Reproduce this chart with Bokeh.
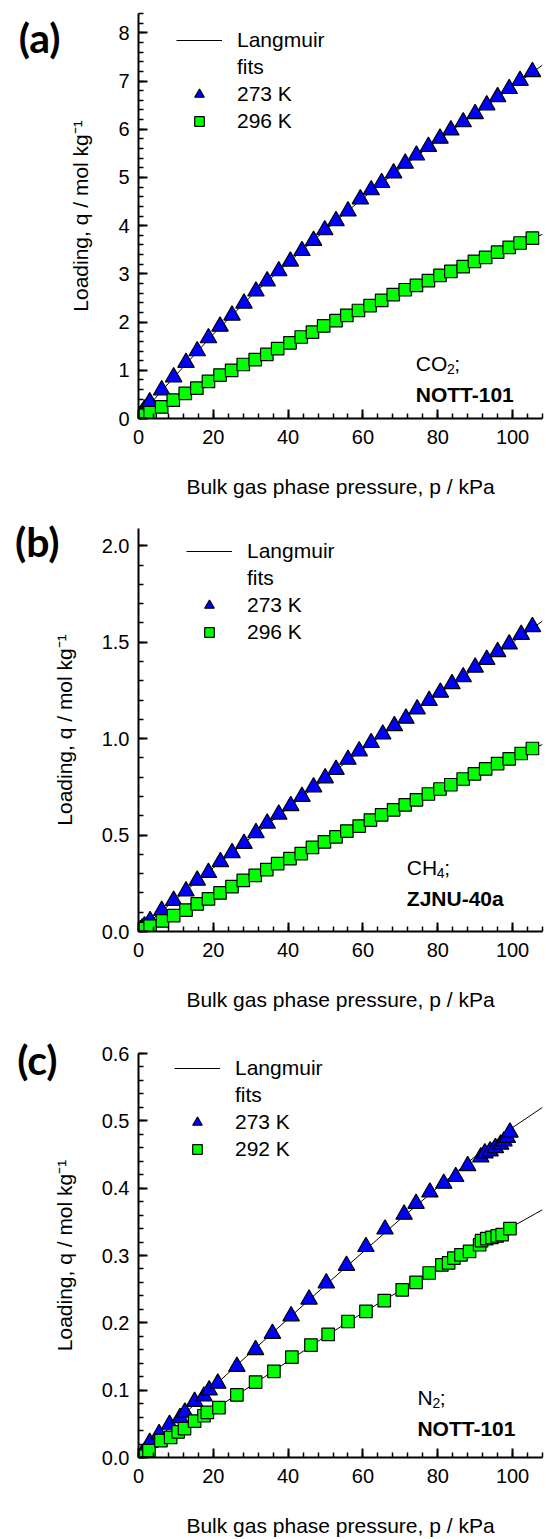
import math
from bokeh.plotting import figure
from bokeh.models import (Range1d, FixedTicker, Label, Legend, LegendItem,
                          PrintfTickFormatter, LinearAxis)
from bokeh.layouts import column
from bokeh.embed import file_html
from bokeh.resources import INLINE

# ---------------- data ----------------
x_ticks = [0, 20, 40, 60, 80, 100]
fit_p = [0, 5, 10, 20, 30, 40, 50, 60, 70, 80, 90, 100, 108]

# (a) CO2 / NOTT-101
a_p273 = [0.2, 0.5, 1.0, 1.6, 3.0, 6.2, 9.4, 12.7, 15.7, 18.7, 21.8, 25.0, 28.2, 31.4, 34.4, 37.5,
          40.6, 43.7, 46.8, 49.8, 52.8, 56.0, 59.3, 62.2, 65.0, 68.2, 71.3, 74.3, 77.5, 80.6,
          83.5, 86.8, 90.0, 93.1, 96.0, 99.1, 102.0, 105.3]
a_q273 = [0.03, 0.06, 0.12, 0.19, 0.34, 0.59, 0.86, 1.16, 1.40, 1.67, 1.91, 2.14, 2.39, 2.64, 2.85,
          3.06, 3.26, 3.48, 3.69, 3.91, 4.10, 4.30, 4.55, 4.74, 4.89, 5.09, 5.29, 5.46, 5.64,
          5.81, 5.98, 6.15, 6.32, 6.50, 6.67, 6.84, 7.01, 7.19]
a_p296 = [0.2, 0.5, 1.0, 1.6, 3.1, 6.2, 9.3, 12.5, 15.6, 18.7, 21.8, 24.9, 28.0, 31.2, 34.3, 37.2,
          40.5, 43.5, 46.5, 49.5, 52.8, 55.7, 58.8, 61.9, 65.0, 68.1, 71.3, 74.3, 77.5, 80.6,
          83.5, 86.8, 89.8, 92.8, 96.0, 99.1, 102.0, 105.3]
a_q296 = [0.01, 0.02, 0.04, 0.07, 0.12, 0.24, 0.38, 0.52, 0.63, 0.77, 0.90, 1.00, 1.12, 1.22, 1.33,
          1.45, 1.57, 1.69, 1.79, 1.92, 2.03, 2.14, 2.24, 2.34, 2.45, 2.57, 2.67, 2.76, 2.86,
          2.97, 3.05, 3.15, 3.26, 3.34, 3.45, 3.55, 3.64, 3.74]
a_fit273 = [0, 0.47, 0.90, 1.75, 2.53, 3.23, 3.91, 4.57, 5.19, 5.77, 6.32, 6.88, 7.33]
a_fit296 = [0, 0.20, 0.41, 0.81, 1.19, 1.55, 1.92, 2.28, 2.62, 2.94, 3.25, 3.57, 3.82]

# (b) CH4 / ZJNU-40a
b_p273 = [0.2, 0.5, 1.0, 1.6, 3.1, 6.2, 9.4, 12.7, 15.7, 18.7, 21.9, 25.0, 28.2, 31.4, 34.4, 37.5,
          40.7, 43.7, 46.8, 49.9, 52.8, 56.0, 59.0, 62.2, 65.3, 68.4, 71.5, 74.5, 77.7, 80.7,
          83.8, 86.8, 90.0, 93.1, 96.0, 99.1, 102.3, 105.3]
b_q273 = [0.004, 0.009, 0.018, 0.028, 0.056, 0.108, 0.160, 0.209, 0.265, 0.305, 0.361, 0.408,
          0.456, 0.512, 0.561, 0.608, 0.652, 0.700, 0.749, 0.796, 0.840, 0.892, 0.936, 0.979,
          1.023, 1.066, 1.105, 1.153, 1.197, 1.240, 1.284, 1.32, 1.37, 1.41, 1.45, 1.49, 1.54, 1.58]
b_p296 = [0.2, 0.5, 1.0, 1.6, 3.1, 6.4, 9.4, 12.7, 15.7, 18.7, 21.8, 25.0, 28.0, 31.2, 34.3, 37.2,
          40.5, 43.5, 46.5, 49.7, 52.8, 55.7, 59.0, 62.0, 65.0, 68.2, 71.3, 74.3, 77.5, 80.6,
          83.5, 86.8, 89.8, 92.8, 96.0, 99.1, 102.3, 105.3]
b_q296 = [0.002, 0.005, 0.009, 0.015, 0.028, 0.055, 0.082, 0.111, 0.143, 0.169, 0.200, 0.233,
          0.265, 0.291, 0.321, 0.352, 0.378, 0.404, 0.436, 0.465, 0.491, 0.521, 0.547, 0.578,
          0.605, 0.631, 0.657, 0.683, 0.713, 0.739, 0.761, 0.791, 0.817, 0.843, 0.871, 0.895,
          0.923, 0.949]
b_fit273 = [0, 0.085, 0.168, 0.33, 0.486, 0.64, 0.795, 0.945, 1.09, 1.23, 1.365, 1.50, 1.61]
b_fit296 = [0, 0.045, 0.09, 0.183, 0.275, 0.367, 0.46, 0.552, 0.64, 0.73, 0.815, 0.90, 0.97]

# (c) N2 / NOTT-101
c_p273 = [0.8, 1.6, 3.0, 5.5, 8.3, 11.1, 12.4, 15.0, 17.5, 18.9, 21.2, 26.3, 31.3, 35.8, 40.8,
          45.6, 50.2, 55.6, 60.8, 65.9, 71.0, 74.2, 77.9, 81.6, 84.8, 88.0, 91.5, 92.6, 94.0,
          95.4, 96.8, 97.7, 98.6, 99.3]
c_q273 = [0.004, 0.008, 0.022, 0.035, 0.049, 0.059, 0.067, 0.083, 0.091, 0.100, 0.110, 0.135,
          0.160, 0.184, 0.210, 0.235, 0.259, 0.285, 0.313, 0.339, 0.361, 0.377, 0.394, 0.407,
          0.417, 0.433, 0.446, 0.452, 0.455, 0.460, 0.465, 0.470, 0.475, 0.483]
c_p292 = [1.4, 2.8, 6.0, 8.6, 10.6, 12.3, 15.0, 17.5, 18.4, 21.5, 26.3, 31.3, 36.2, 41.0, 46.1,
          50.7, 56.0, 60.8, 65.7, 70.5, 74.2, 77.7, 81.1, 82.9, 84.3, 86.2, 88.5, 91.2, 91.7,
          93.1, 94.5, 95.9, 97.2, 99.3]
c_q292 = [0.002, 0.010, 0.025, 0.030, 0.038, 0.043, 0.054, 0.062, 0.067, 0.074, 0.093, 0.112,
          0.128, 0.149, 0.167, 0.183, 0.202, 0.217, 0.233, 0.249, 0.260, 0.274, 0.286, 0.289,
          0.296, 0.301, 0.306, 0.316, 0.322, 0.325, 0.327, 0.329, 0.331, 0.340]
c_fit273 = [0, 0.027, 0.053, 0.105, 0.156, 0.206, 0.256, 0.305, 0.354, 0.401, 0.447, 0.490, 0.520]
c_fit292 = [0, 0.018, 0.036, 0.071, 0.106, 0.143, 0.180, 0.215, 0.248, 0.282, 0.313, 0.343, 0.368]

x_title = "Bulk gas phase pressure, p / kPa"
y_title = "Loading, q / mol kg\u207b\u00b9"

FONT = "Liberation Sans"
W = 546

AW = {'C': 722, 'H': 722, 'N': 722, 'O': 778}


def tw(s, size):
    return sum(AW.get(ch, 556) for ch in s) * size / 1000.0


def make_panel(height, top, fh, left, fw, xmax, ymax, yticks, yminor, yfmt):
    p = figure(width=W, height=height, x_range=Range1d(0, xmax), y_range=Range1d(0, ymax),
               output_backend="svg", toolbar_location=None,
               min_border_left=left, min_border_right=W - left - fw,
               min_border_top=top, min_border_bottom=height - top - fh)
    p.outline_line_color = None
    p.xgrid.visible = False
    p.ygrid.visible = False
    p.background_fill_color = "white"
    p.border_fill_color = "white"
    p.xaxis.ticker = FixedTicker(ticks=x_ticks, minor_ticks=[v * 4 for v in range(28)])
    p.yaxis.ticker = FixedTicker(ticks=yticks, minor_ticks=yminor)
    if yfmt:
        p.yaxis.formatter = PrintfTickFormatter(format=yfmt)
    for ax in (p.xaxis[0], p.yaxis[0]):
        ax.axis_line_width = 2
        ax.axis_line_color = "black"
        ax.major_tick_in = 9
        ax.major_tick_out = 0
        ax.minor_tick_in = 5
        ax.minor_tick_out = 0
        ax.major_tick_line_width = 2
        ax.minor_tick_line_width = 1.5
        ax.major_tick_line_color = "black"
        ax.minor_tick_line_color = "black"
        ax.major_label_text_font = FONT
        ax.major_label_text_font_size = "20px"
        ax.major_label_text_color = "black"
        ax.axis_label_text_font = FONT
        ax.axis_label_text_font_size = "21px"
        ax.axis_label_text_font_style = "normal"
        ax.axis_label_text_color = "black"
    p.xaxis.major_label_standoff = 11
    p.yaxis.major_label_standoff = 9
    p.xaxis.axis_label = x_title
    p.yaxis.axis_label = y_title
    p.xaxis.axis_label_standoff = 28
    p.yaxis.axis_label_standoff = 23
    geo = dict(left=left, w=fw, top=top, h=fh, xmax=xmax, ymax=ymax)
    return p, geo


def lab(p, g, off, px, py, text, size=21, style="normal", font=FONT):
    x = (px - g["left"]) / g["w"] * g["xmax"]
    y = (g["top"] + g["h"] - (py - off)) / g["h"] * g["ymax"]
    p.add_layout(Label(x=x, y=y, text=text, text_font=font, text_font_size=f"{size}px",
                       text_font_style=style, text_align="left",
                       text_baseline="alphabetic", text_color="black"))


def decorate(p, g, off, tag, tag_cy, tag_standoff, gas, sub, gas_x, gas_base, mof,
             leg_x, leg_top, rends, labels):
    # panel tag, drawn as the single tick label of an extra bare left axis
    ty = round((g["top"] + g["h"] - (tag_cy - off)) / g["h"] * g["ymax"], 4)
    tag_axis = LinearAxis(ticker=FixedTicker(ticks=[ty], minor_ticks=[]),
                          major_label_overrides={ty: tag},
                          axis_line_color=None, major_tick_line_color=None,
                          minor_tick_line_color=None, major_tick_in=0, major_tick_out=0,
                          major_label_text_font="Lato", major_label_text_font_size="41px",
                          major_label_text_font_style="bold", major_label_text_color="black",
                          major_label_standoff=tag_standoff)
    p.add_layout(tag_axis, "left")
    # gas label with subscript
    lab(p, g, off, gas_x, gas_base, gas)
    sx = gas_x + tw(gas, 21)
    lab(p, g, off, sx, gas_base + 5, sub, size=14)
    lab(p, g, off, sx + tw(sub, 14) * 0.95, gas_base, ";")
    lab(p, g, off, gas_x, gas_base + 31, mof, style="bold")
    # legend
    n = len(labels)
    leg_h = n * 24 + (n - 1) * 3
    vy = (off + g["top"] + g["h"]) - (leg_top + leg_h)
    vx = leg_x - g["left"]
    items = [LegendItem(label=labels[i], renderers=[rends[i]]) for i in range(n)]
    leg = Legend(items=items, location=(vx, vy), orientation="vertical",
                 border_line_color=None, background_fill_alpha=0, padding=0, margin=0,
                 spacing=3, glyph_width=46, glyph_height=24, label_height=24,
                 label_standoff=15, label_text_font=FONT, label_text_font_size="21px",
                 label_text_color="black")
    p.add_layout(leg)


def draw(p, fp, f1, f2, p1, q1, p2, q2):
    l1 = p.line(fp, f1, line_color="black", line_width=1)
    p.line(fp, f2, line_color="black", line_width=1)
    blank = p.line([], [], line_alpha=0)
    r1 = p.scatter(p1, q1, marker="triangle", size=16.5, fill_color="#0000FF",
                   line_color="black", line_width=1.2)
    r2 = p.scatter(p2, q2, marker="square", size=12.5, fill_color="#00FF00",
                   line_color="black", line_width=1.2)
    return [l1, blank, r1, r2]


# ---- panel (a) ----
pa, ga = make_panel(500, 13, 405, 138, 408, 108, 8.4, [0, 1, 2, 3, 4, 5, 6, 7, 8],
                    [v * 0.2 for v in range(43)], None)
ra = draw(pa, fit_p, a_fit273, a_fit296, a_p273, a_q273, a_p296, a_q296)
decorate(pa, ga, 0, "(a)", 37, 6, "CO", "2", 418, 363, "NOTT-101", 176, 28, ra,
         ["Langmuir", "fits", "273 K", "296 K"])

# ---- panel (b) ----
pb, gb = make_panel(525, 28, 403, 138, 408, 108, 2.09, [0, 0.5, 1.0, 1.5, 2.0],
                    [v * 0.1 for v in range(21)], "%.1f")
rb = draw(pb, fit_p, b_fit273, b_fit296, b_p273, b_q273, b_p296, b_q296)
decorate(pb, gb, 500, "(b)", 541, -10, "CH", "4", 409, 867, "ZJNU-40a", 186, 539, rb,
         ["Langmuir", "fits", "273 K", "296 K"])

# ---- panel (c) ----
pc, gc = make_panel(514, 28, 405, 135, 407, 108, 0.6, [0, 0.1, 0.2, 0.3, 0.4, 0.5, 0.6],
                    [v * 0.02 for v in range(31)], "%.1f")
rc = draw(pc, fit_p, c_fit273, c_fit292, c_p273, c_q273, c_p292, c_q292)
decorate(pc, gc, 1025, "(c)", 1059, -8, "N", "2", 416, 1398, "NOTT-101", 171, 1057, rc,
         ["Langmuir", "fits", "273 K", "292 K"])

layout = column(pa, pb, pc, spacing=0)
open("out.html", "w").write(file_html(layout, INLINE))
